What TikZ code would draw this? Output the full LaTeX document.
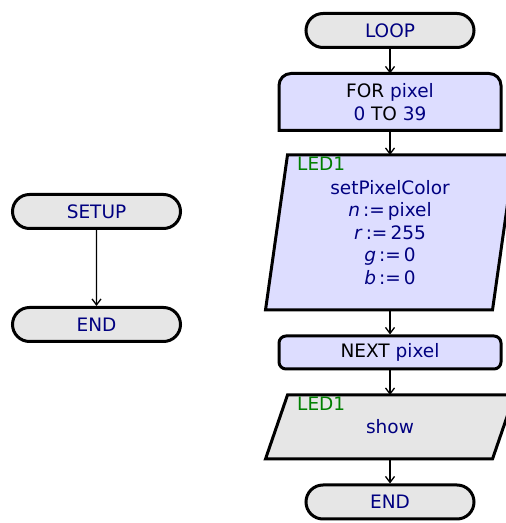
\documentclass[tikz,border=0pt]{standalone}
\usepackage{fontspec}
\setmainfont{DejaVu Sans}
\usetikzlibrary{arrows.meta,positioning,shapes.misc,backgrounds}
\definecolor{flownavy}{HTML}{000080}
\definecolor{flowgreen}{HTML}{008000}
\definecolor{flowgray}{HTML}{E6E6E6}
\definecolor{flowlav}{HTML}{DDDDFF}

\begin{document}
\begin{tikzpicture}[
  x=1pt, y=1pt,
  node distance=24.5pt,
  every node/.style={font=\fontsize{18.5pt}{22.5pt}\selectfont, text=flownavy},
  term/.style={rounded rectangle, draw, line width=3pt, fill=flowgray, minimum width=168pt, minimum height=34pt, inner sep=0pt},
  forbox/.style={outer sep=0pt, minimum width=222pt, minimum height=57pt, align=center, inner sep=0pt},
  nextbox/.style={draw, line width=3pt, fill=flowlav, rounded corners=7pt, minimum width=222pt, minimum height=33pt, inner sep=0pt},
  iobox/.style={outer sep=0pt, minimum width=227pt, align=center, inner sep=0pt},
  outline/.style={draw, line width=3pt},
  tag/.style={anchor=north west, inner sep=0pt, text=flowgreen},
  arrow/.style={-{Straight Barb[length=6pt,width=9pt]}, line width=1.3pt}
]
\useasboundingbox (0,0) rectangle (506,523);
% loop column
\node[term] (loop) at (390,492.5) {LOOP};
\node[forbox, below=of loop] (for) {\textcolor{black}{FOR} pixel\\0 \textcolor{black}{TO} 39};
\node[iobox, minimum height=155pt, below=of for] (setpx) {setPixelColor\\\textit{n}\,:=\,pixel\\\textit{r}\,:=\,255\\\textit{g}\,:=\,0\\\textit{b}\,:=\,0};
\node[nextbox, below=of setpx] (next) {\textcolor{black}{NEXT} pixel};
\node[iobox, minimum height=64pt, below=of next] (show) {show};
\node[term, below=of show] (endr) {END};
\node[tag] (tagpx) at ([xshift=20.5pt,yshift=-2pt]setpx.north west) {LED1};
\node[tag] (tagshow) at ([xshift=20.5pt,yshift=-2pt]show.north west) {LED1};
% setup column
\node[term] (setup) at (96.5,311.5) {SETUP};
\node[term, below=76pt of setup] (endl) {END};
\begin{scope}[on background layer]
  \filldraw[outline, fill=flowlav] (for.south west) [rounded corners=12pt] -- (for.north west) -- (for.north east) [sharp corners] -- (for.south east) -- cycle;
  \filldraw[outline, fill=flowlav] ([xshift=-11pt]setpx.south west) -- ([xshift=11pt]setpx.north west) -- ([xshift=11pt]setpx.north east) -- ([xshift=-11pt]setpx.south east) -- cycle;
  \filldraw[outline, fill=flowgray] ([xshift=-11pt]show.south west) -- ([xshift=11pt]show.north west) -- ([xshift=11pt]show.north east) -- ([xshift=-11pt]show.south east) -- cycle;
\end{scope}
\draw[arrow] (loop) -- (for);
\draw[arrow] (for) -- (setpx);
\draw[arrow] (setpx) -- (next);
\draw[arrow] (next) -- (show);
\draw[arrow] (show) -- (endr);
\draw[arrow] (setup) -- (endl);
\end{tikzpicture}
\end{document}
